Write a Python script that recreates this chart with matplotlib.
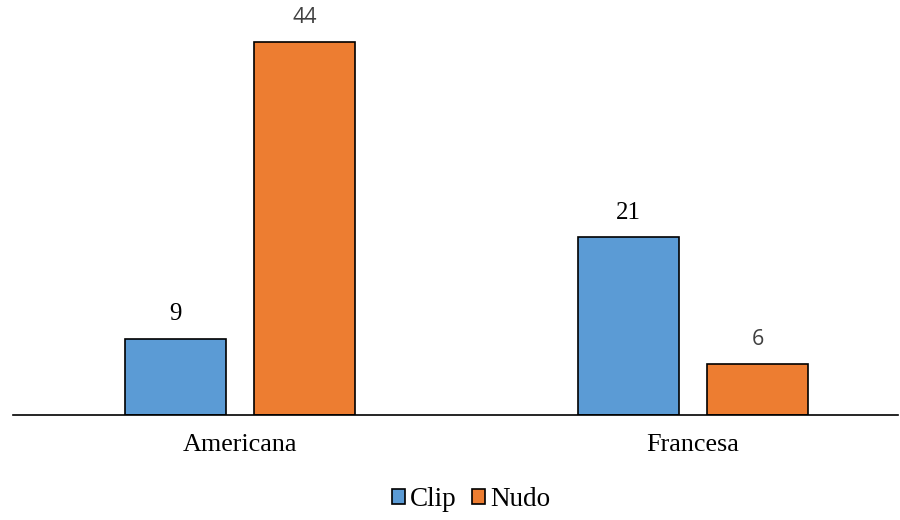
import matplotlib
matplotlib.use("Agg")
import matplotlib.pyplot as plt
from matplotlib.patches import Patch

categories = ["Americana", "Francesa"]
series_names = ["Clip", "Nudo"]
clip_values = [9, 21]
nudo_values = [44, 6]
colors = ["#5B9BD5", "#ED7D31"]

fig = plt.figure(figsize=(9, 5.2), dpi=100)
W, H = 900, 520
ax = fig.add_axes([13 / W, (H - 415) / H, (898 - 13) / W, 415 / H])

x = list(range(len(categories)))
bw = 0.223
off = 0.1424
b1 = ax.bar([i - off for i in x], clip_values, bw, color=colors[0], edgecolor="black", linewidth=1.2, zorder=2)
b2 = ax.bar([i + off for i in x], nudo_values, bw, color=colors[1], edgecolor="black", linewidth=1.2, zorder=2)

ax.set_xlim((13 - 240) / 453, (898 - 240) / 453)
ax.set_ylim(0, 415 / (373 / 44))

serif = dict(family="Liberation Serif", size=18, color="black")
sans = dict(family="Open Sans", size=15.5, color="#404040")
label_styles = {(0, 0): serif, (0, 1): sans, (1, 0): serif, (1, 1): sans}
for si, vals in enumerate([clip_values, nudo_values]):
    for ci, v in enumerate(vals):
        xpos = ci + (-off if si == 0 else off)
        st = label_styles[(ci, si)]
        ax.annotate(str(v), (xpos, v), xytext=(0, 17.5), textcoords="offset points",
                    ha="center", va="center", fontfamily=st["family"],
                    fontsize=st["size"], color=st["color"])

for s in ["top", "right", "left"]:
    ax.spines[s].set_visible(False)
ax.spines["bottom"].set_linewidth(1.2)
ax.spines["bottom"].set_color("black")
ax.set_yticks([])
ax.set_xticks(x)
ax.set_xticklabels(categories, fontfamily="Liberation Serif", fontsize=18.8)
ax.tick_params(axis="x", length=0, pad=14)

handles = [Patch(facecolor=colors[i], edgecolor="black", linewidth=1.2, label=series_names[i]) for i in range(2)]
fig.legend(handles=handles, loc="center", bbox_to_anchor=(471 / W, 1 - 500 / H), ncol=2, frameon=False,
           prop={"family": "Liberation Serif", "size": 19.5}, handlelength=0.48, handleheight=0.48,
           handletextpad=0.18, columnspacing=0.6)

fig.savefig("out.png", dpi=100)
